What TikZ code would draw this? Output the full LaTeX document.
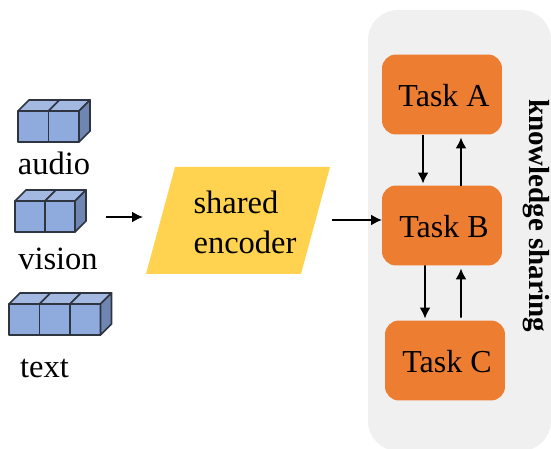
\documentclass[tikz,border=0pt]{standalone}
\usepackage{fontspec}
\setmainfont{Liberation Serif}
\usetikzlibrary{positioning,arrows.meta}
\definecolor{taskorange}{HTML}{ED7D31}
\definecolor{encyellow}{HTML}{FFD34F}
\definecolor{cubefront}{HTML}{8FAADC}
\definecolor{cubetop}{HTML}{A3B9E2}
\definecolor{cubeside}{HTML}{6F86B2}
\definecolor{cubeline}{HTML}{2F3540}
\definecolor{panelgray}{HTML}{F0F0F0}
\tikzset{
  px/.style={x=0.02cm,y=-0.02cm},
  task/.style={fill=taskorange,rounded corners=0.28cm,minimum width=2.4cm,minimum height=1.6cm,outer sep=0pt,text height=14pt,text depth=0pt,execute at begin node=\hspace*{0.08cm},font=\fontsize{18.2}{21}\selectfont},
  lab/.style={font=\fontsize{18.5}{22.7}\selectfont},
  arr/.style={-{Latex[length=0.22cm,width=0.22cm]},line width=1pt},
  cube/.style={draw=cubeline,line width=1pt,line join=round}
}
\newcommand{\cubes}[4]{% x, y (front top left), count, width
  \foreach \i in {1,...,#3}{
    \pgfmathsetmacro{\xa}{#1+(\i-1)*#4}
    \pgfmathsetmacro{\xb}{\xa+#4}
    \filldraw[cube,fill=cubefront] (\xa,#2) rectangle (\xb,#2+31);
    \filldraw[cube,fill=cubetop] (\xa,#2) -- (\xa+11,#2-11) -- (\xb+11,#2-11) -- (\xb,#2) -- cycle;
  }
  \pgfmathsetmacro{\xe}{#1+#3*#4}
  \filldraw[cube,fill=cubeside] (\xe,#2) -- (\xe+11,#2-11) -- (\xe+11,#2+20) -- (\xe,#2+31) -- cycle;
}
\begin{document}
\begin{tikzpicture}[px]
  \useasboundingbox (0,0) rectangle (551,449);
  \fill[panelgray,rounded corners=0.6cm] (368,10) rectangle (551,451);

  \cubes{18}{111}{2}{30.5}
  \cubes{15}{201}{2}{30}
  \cubes{9}{304}{3}{30.5}
  \node[lab] (audio) at (54,163) {audio};
  \node[lab] (vision) at (58,259) {vision};
  \node[lab] (text) at (44.5,368.5) {text};
  \coordinate (visionout) at (106,217);

  \fill[encyellow] (175,167) -- (330,167) -- (301,274) -- (146,274) -- cycle;
  \coordinate (encin) at (143,217);
  \coordinate (encout) at (332,220);
  \node[lab,align=left] (encoder) at (245,222) {shared\\encoder};

  \node[task] (taska) at (442,94.5) {Task A};
  \node[task] (taskb) at (442,225.5) {Task B};
  \node[task] (taskc) at (445,360.5) {Task C};
  \node[rotate=-90,font=\fontsize{16.5}{20}\selectfont\bfseries] (sharing) at (536,215.5) {knowledge sharing};

  \draw[arr] (visionout) -- (encin);
  \draw[arr] (encout) -- (taskb.west |- encout);
  \draw[arr] ([xshift=-0.38cm,yshift=-0.02cm]taska.south) -- ([xshift=-0.38cm,yshift=0.04cm]taskb.north);
  \draw[arr] ([xshift=0.38cm]taskb.north) -- ([xshift=0.38cm,yshift=-0.06cm]taska.south);
  \draw[arr] ([xshift=-0.34cm]taskb.south) -- ([xshift=-0.4cm,yshift=0.04cm]taskc.north);
  \draw[arr] ([xshift=0.32cm,yshift=0.06cm]taskc.north) -- ([xshift=0.38cm,yshift=-0.06cm]taskb.south);
\end{tikzpicture}
\end{document}
